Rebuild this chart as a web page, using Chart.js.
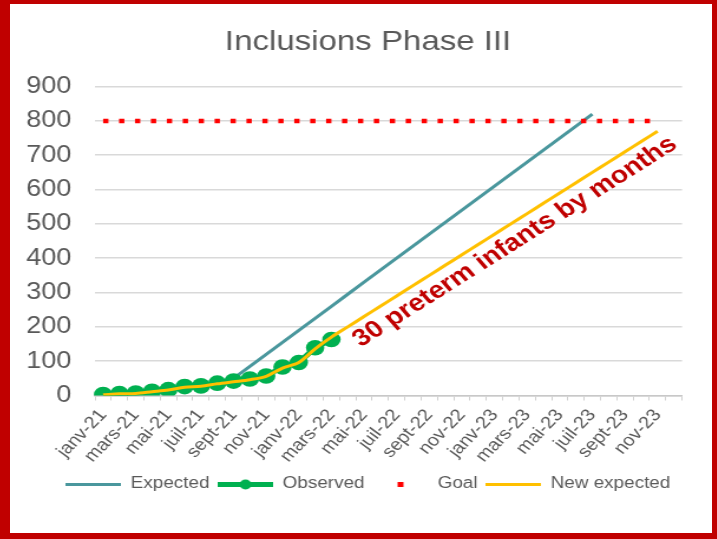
<!DOCTYPE html>
<html>
<head>
<meta charset="utf-8">
<script src="https://cdn.jsdelivr.net/npm/chart.js@4.4.1/dist/chart.umd.min.js"></script>
<style>
  html, body { margin: 0; padding: 0; background: #fff; }
  #frame {
    position: absolute; left: 0; top: 0;
    width: 717px; height: 539px; box-sizing: border-box;
    border-style: solid; border-color: #c00000;
    border-width: 4px 5px 6px 10px;
    background: #fff;
  }
</style>
</head>
<body>
<div id="frame">
  <!-- drawn narrower and stretched by css, like the original picture -->
  <canvas id="chart" width="595" height="529" style="display:block;width:702px;height:529px"></canvas>
</div>
<script>
const months = [
  'janv-21', 'févr-21', 'mars-21', 'avr-21', 'mai-21', 'juin-21', 'juil-21', 'août-21', 'sept-21', 'oct-21', 'nov-21', 'déc-21',
  'janv-22', 'févr-22', 'mars-22', 'avr-22', 'mai-22', 'juin-22', 'juil-22', 'août-22', 'sept-22', 'oct-22', 'nov-22', 'déc-22',
  'janv-23', 'févr-23', 'mars-23', 'avr-23', 'mai-23', 'juin-23', 'juil-23', 'août-23', 'sept-23', 'oct-23', 'nov-23', 'déc-23'
];

const expected = [0, 3, 5, 9, 14, 20, 25, 32, 50, 85, 120, 155, 190, 225, 260, 295, 330, 365, 400, 435, 470,
  505, 540, 575, 610, 645, 680, 715, 750, 785, 820, null, null, null, null, null];

const observed = [3, 6, 7, 12, 17, 26, 28, 36, 42, 48, 57, 83, 96, 139, 163,
  null, null, null, null, null, null, null, null, null, null, null, null, null, null, null, null, null, null, null, null, null];

const goal = [800, 800, 800, 800, 800, 800, 800, 800, 800, 800, 800, 800, 800, 800, 800, 800, 800, 800,
  800, 800, 800, 800, 800, 800, 800, 800, 800, 800, 800, 800, 800, 800, 800, 800, 800, null];

const newExpected = [2, 5, 6, 11, 16, 24, 27, 34, 40, 46, 56, 80, 96, 136, 170, 200, 230, 260, 290, 320, 350,
  380, 410, 440, 470, 500, 530, 560, 590, 620, 650, 680, 710, 740, 770, null];

const yTicks = [0, 100, 200, 300, 400, 500, 600, 700, 800, 900];

const noteText = '30 preterm infants by months';
const noteAt = [15.8, 140];   // category index, value

const FONT = '"Liberation Sans", Arial, sans-serif';
const GREY = '#595959';

// little legend samples, same style as the lines
function legendIcon(kind) {
  const c = document.createElement('canvas');
  c.width = 47; c.height = 16;
  const g = c.getContext('2d');
  if (kind === 'goal') {
    g.fillStyle = '#ff0000';
    g.fillRect(21, 6, 5, 5);
    return c;
  }
  const colors = { expected: '#4a979d', observed: '#00b050', newExpected: '#ffc000' };
  g.strokeStyle = colors[kind];
  g.lineWidth = kind === 'observed' ? 5 : 3;
  g.beginPath(); g.moveTo(0, 8.5); g.lineTo(47, 8.5); g.stroke();
  if (kind === 'observed') {
    g.fillStyle = '#00b050';
    g.beginPath(); g.arc(23.5, 8.5, 5, 0, Math.PI * 2); g.fill();
  }
  return c;
}
const legendIcons = [legendIcon('expected'), legendIcon('observed'), legendIcon('goal'), legendIcon('newExpected')];

const notePlugin = {
  id: 'note',
  afterDatasetsDraw(chart) {
    const { ctx, scales: { x, y } } = chart;
    const px = x.getPixelForValue(noteAt[0]);
    const py = y.getPixelForValue(noteAt[1]);
    // same slope as the new expected line
    const ang = Math.atan2(y.getPixelForValue(newExpected[34]) - y.getPixelForValue(newExpected[14]),
      x.getPixelForValue(34) - x.getPixelForValue(14));
    ctx.save();
    ctx.translate(px, py);
    ctx.rotate(ang);
    ctx.font = 'bold 24px ' + FONT;
    ctx.fillStyle = '#c00000';
    ctx.textBaseline = 'alphabetic';
    ctx.fillText(noteText, 0, 0);
    ctx.restore();
  }
};

const ctx = document.getElementById('chart').getContext('2d');
new Chart(ctx, {
  type: 'line',
  data: {
    labels: months,
    datasets: [
      {
        label: 'Expected', data: expected, order: 3,
        borderColor: '#4a979d', borderWidth: 3, pointRadius: 0, tension: 0
      },
      {
        label: 'Observed', data: observed, order: 2,
        borderColor: '#00b050', borderWidth: 5,
        pointRadius: 7.8, pointBackgroundColor: '#00b050', pointBorderWidth: 0, pointStyle: 'circle'
      },
      {
        label: 'Goal', data: goal, order: 1,
        borderColor: '#ff0000', borderWidth: 4.5, borderDash: [4.5, 9], borderCapStyle: 'butt',
        pointRadius: 0
      },
      {
        label: 'New expected', data: newExpected, order: 0,
        borderColor: '#ffc000', borderWidth: 3, pointRadius: 0, tension: 0.3
      }
    ]
  },
  options: {
    responsive: false,
    animation: false,
    devicePixelRatio: 1,
    layout: { padding: { left: 12, right: 0, top: 0, bottom: 31 } },
    scales: {
      x: {
        offset: true,
        grid: { display: true, drawOnChartArea: false, drawTicks: true, tickLength: 5, offset: true, color: '#d0d0d0', lineWidth: 1 },
        border: { display: true, color: '#c8c8c8', width: 1.5 },
        ticks: {
          autoSkip: false, maxRotation: 50, minRotation: 50, padding: 5,
          color: GREY, font: { family: FONT, size: 17 },
          callback: (v, i) => (i % 2 === 0 ? months[i] : '')
        },
        afterFit: s => { s.height = 73.5; }
      },
      y: {
        min: 0, max: 900,
        afterBuildTicks: s => { s.ticks = yTicks.map(v => ({ value: v })); },
        grid: { color: '#d9d9d9', lineWidth: 1.5, drawTicks: false },
        border: { display: false },
        ticks: { padding: 20, color: GREY, font: { family: FONT, size: 23 } },
        afterFit: s => { s.width = 60; }
      },
      // empty space on the right of the plot
      yRight: {
        position: 'right', display: true,
        grid: { display: false, drawTicks: false }, border: { display: false },
        ticks: { display: false },
        afterFit: s => { s.width = 25.4; }
      }
    },
    plugins: {
      title: {
        display: true, text: 'Inclusions Phase III', color: GREY,
        font: { family: FONT, size: 28, weight: 'normal' },
        padding: { top: 21, bottom: 28 }
      },
      legend: {
        position: 'bottom',
        labels: {
          usePointStyle: true, pointStyleWidth: 47, padding: 7,
          color: GREY, font: { family: FONT, size: 16 },
          sort: (a, b) => a.datasetIndex - b.datasetIndex,
          generateLabels: chart => Chart.defaults.plugins.legend.labels.generateLabels(chart)
            .map(item => ({ ...item, pointStyle: legendIcons[item.datasetIndex] }))
        }
      },
      tooltip: { enabled: false }
    }
  },
  plugins: [notePlugin]
});
</script>
</body>
</html>
